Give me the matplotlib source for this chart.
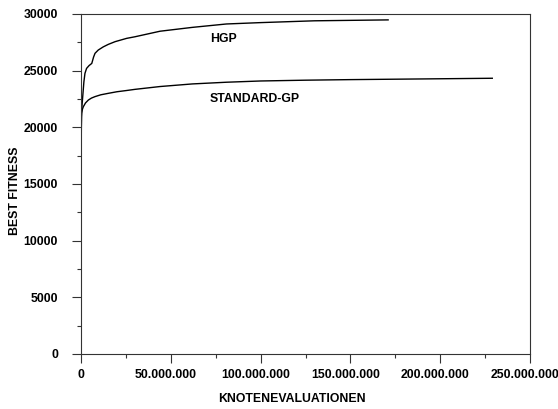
import matplotlib
matplotlib.use("Agg")
import matplotlib.pyplot as plt
from matplotlib import font_manager as fm
from matplotlib.ticker import MultipleLocator, FuncFormatter
from matplotlib.transforms import ScaledTranslation

hgp_x = [0, 0.5, 1.0, 1.6, 2.2, 3.1, 4.5, 6.0, 7.0, 7.8, 9.6, 12.4, 15.2, 19.0, 25.4,
         30.0, 44, 62, 81, 100, 130, 171]
hgp_y = [20500, 21800, 22800, 24000, 24760, 25200, 25450, 25640, 26200, 26530, 26820,
         27100, 27320, 27560, 27850, 27990, 28480, 28820, 29120, 29240, 29400, 29480]
std_x = [0, 0.2, 0.4, 0.8, 1.3, 2.5, 4.1, 5.8, 7.8, 11, 15.2, 20, 25.4, 30, 44, 62,
         81, 100, 125, 150, 190, 229]
std_y = [16500, 20000, 21260, 21600, 21820, 22150, 22410, 22580, 22710, 22870, 23000,
         23140, 23250, 23350, 23600, 23830, 23980, 24090, 24160, 24210, 24270, 24330]
labels = ["HGP", "STANDARD-GP"]
x_label = "KNOTENEVALUATIONEN"
y_label = "BEST FITNESS"

bold_path = None
for f in fm.findSystemFonts():
    if f.endswith("LiberationSans-Bold.ttf"):
        bold_path = f
        break
FS = 8.8
if bold_path:
    fp = fm.FontProperties(fname=bold_path, size=FS)
else:
    fp = fm.FontProperties(family='DejaVu Sans', weight='bold', size=FS)

W, H = 558, 409
fig = plt.figure(figsize=(W/100, H/100), dpi=100)
ax = fig.add_axes([81/W, 1 - 354/H, (530-81)/W, (354-14)/H])

ax.plot([v * 1e6 for v in hgp_x], hgp_y, color='black', lw=1.0)
ax.plot([v * 1e6 for v in std_x], std_y, color='black', lw=1.0)

ax.text(71.8e6, 27800, labels[0], fontproperties=fp, va='center', ha='left')
ax.text(71.8e6, 22500, labels[1], fontproperties=fp, va='center', ha='left')

ax.set_xlim(0, 250e6)
ax.set_ylim(0, 30000)
ax.xaxis.set_major_locator(MultipleLocator(50e6))
ax.xaxis.set_minor_locator(MultipleLocator(25e6))
ax.yaxis.set_major_locator(MultipleLocator(5000))
ax.yaxis.set_minor_locator(MultipleLocator(2500))

def fmt_x(v, pos):
    return f"{int(round(v)):,}".replace(",", ".")
ax.xaxis.set_major_formatter(FuncFormatter(fmt_x))

ax.tick_params(axis='both', which='major', direction='out', length=6.5, width=0.8, color='#333333')
ax.tick_params(axis='both', which='minor', direction='out', length=3, width=0.8, color='#333333')
ax.tick_params(axis='x', which='major', pad=4)
ax.tick_params(axis='y', which='major', pad=10)
for s in ax.spines.values():
    s.set_linewidth(0.8)
    s.set_color('#333333')

fig.canvas.draw()
shift = ScaledTranslation(-5/100, 0, fig.dpi_scale_trans)
for t, loc in zip(ax.xaxis.get_major_ticks(), ax.xaxis.get_majorticklocs()):
    t.label1.set_fontproperties(fp)
    if loc > 0:
        t.label1.set_transform(t.label1.get_transform() + shift)
for t in ax.yaxis.get_major_ticks():
    t.label1.set_fontproperties(fp)

fig.text(292/W, 1 - 399/H, x_label, fontproperties=fp, ha='center', va='center')
fig.text(15/W, 1 - 191/H, y_label, fontproperties=fp, ha='center', va='center', rotation=90)

fig.savefig("out.png", dpi=100)
